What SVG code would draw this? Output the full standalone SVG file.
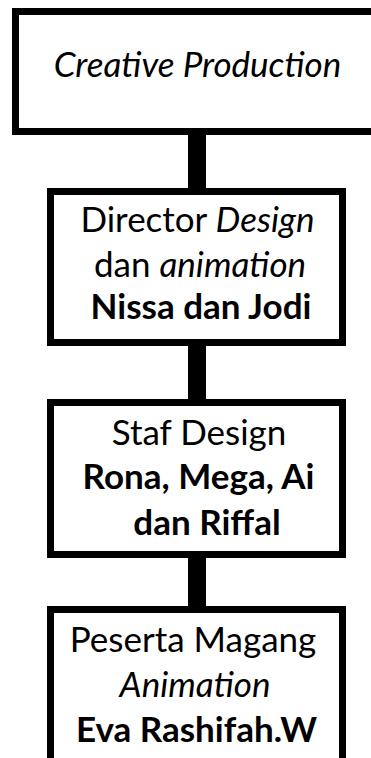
<svg xmlns="http://www.w3.org/2000/svg" width="371" height="758" viewBox="0 0 371 758">
<style>
.box{fill:#fff;stroke:#000;stroke-width:7}
.t{font-family:Lato,"Open Sans","Liberation Sans",sans-serif;font-size:35px;fill:#000;text-anchor:middle}
.i{font-style:italic}
.b{font-weight:bold}
</style>
<rect width="371" height="758" fill="#fff"/>
<g id="connectors" fill="#000">
<rect x="188" y="133" width="18" height="58"/>
<rect x="188" y="344" width="18" height="58"/>
<rect x="188" y="556" width="18" height="53"/>
</g>
<g id="n1">
<rect class="box" x="15.5" y="11.5" width="380" height="120"/>
<text class="t i" x="197.5" y="77">Creative Production</text>
</g>
<g id="n2">
<rect class="box" x="50.5" y="191.5" width="292" height="151"/>
<text class="t" x="197.5" y="232">Director <tspan class="i">Design</tspan></text>
<text class="t" x="200" y="277">dan <tspan class="i">animation</tspan></text>
<text class="t b" x="201" y="319">Nissa dan Jodi</text>
</g>
<g id="n3">
<rect class="box" x="50.5" y="402.5" width="292" height="152"/>
<text class="t" x="199" y="445">Staf Design</text>
<text class="t b" x="198.5" y="489">Rona, Mega, Ai</text>
<text class="t b" x="207" y="535">dan Riffal</text>
</g>
<g id="n4">
<rect class="box" x="50.5" y="609.5" width="292" height="200"/>
<text class="t" x="193" y="652">Peserta Magang</text>
<text class="t i" x="195" y="697">Animation</text>
<text class="t b" x="196.5" y="742">Eva Rashifah.W</text>
</g>
</svg>
